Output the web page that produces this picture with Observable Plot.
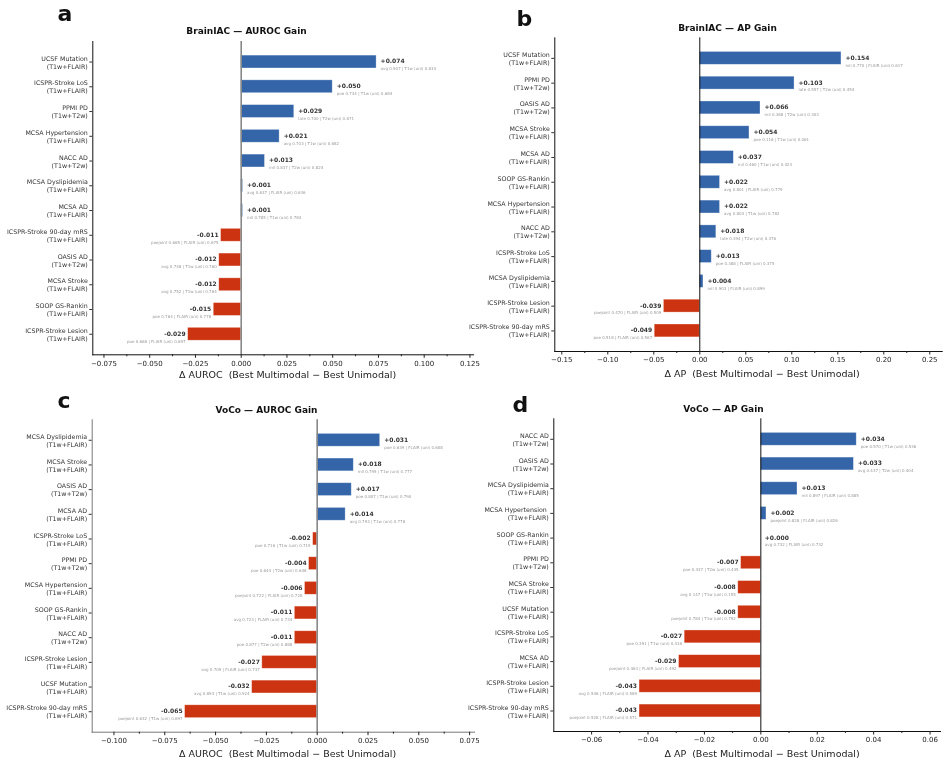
<!DOCTYPE html>
<html>
<head>
<meta charset="utf-8">
<script src="https://cdn.jsdelivr.net/npm/d3@7"></script>
<script src="https://cdn.jsdelivr.net/npm/@observablehq/plot@0.6"></script>
<style>
  html, body { margin: 0; padding: 0; background: #fff; }
  #fig { position: relative; width: 949px; height: 765px; overflow: hidden; font-family: "DejaVu Sans", sans-serif; }
  #fig svg { position: absolute; overflow: visible; will-change: transform; }
</style>
</head>
<body>
<div id="fig"></div>
<script>
// ---- BrainIAC, AUROC ----
const biacAurocTask = ["UCSF Mutation", "ICSPR-Stroke LoS", "PPMI PD", "MCSA Hypertension", "NACC AD", "MCSA Dyslipidemia", "MCSA AD", "ICSPR-Stroke 90-day mRS", "OASIS AD", "MCSA Stroke", "SOOP GS-Rankin", "ICSPR-Stroke Lesion"];
const biacAurocMod = ["T1w+FLAIR", "T1w+FLAIR", "T1w+T2w", "T1w+FLAIR", "T1w+T2w", "T1w+FLAIR", "T1w+FLAIR", "T1w+FLAIR", "T1w+T2w", "T1w+FLAIR", "T1w+FLAIR", "T1w+FLAIR"];
const biacAurocDelta = [0.074, 0.050, 0.029, 0.021, 0.013, 0.001, 0.001, -0.011, -0.012, -0.012, -0.015, -0.029];
const biacAurocNote = [
  "avg 0.907 | T1w (uni) 0.834", "poe 0.734 | T1w (uni) 0.684", "late 0.700 | T2w (uni) 0.671",
  "avg 0.703 | T1w (uni) 0.682", "mil 0.837 | T2w (uni) 0.824", "avg 0.637 | FLAIR (uni) 0.636",
  "mil 0.785 | T1w (uni) 0.784", "poejoint 0.665 | FLAIR (uni) 0.675", "avg 0.748 | T1w (uni) 0.760",
  "avg 0.752 | T1w (uni) 0.764", "poe 0.764 | FLAIR (uni) 0.778", "poe 0.668 | FLAIR (uni) 0.697"];

// ---- BrainIAC, AP ----
const biacApTask = ["UCSF Mutation", "PPMI PD", "OASIS AD", "MCSA Stroke", "MCSA AD", "SOOP GS-Rankin", "MCSA Hypertension", "NACC AD", "ICSPR-Stroke LoS", "MCSA Dyslipidemia", "ICSPR-Stroke Lesion", "ICSPR-Stroke 90-day mRS"];
const biacApMod = ["T1w+FLAIR", "T1w+T2w", "T1w+T2w", "T1w+FLAIR", "T1w+FLAIR", "T1w+FLAIR", "T1w+FLAIR", "T1w+T2w", "T1w+FLAIR", "T1w+FLAIR", "T1w+FLAIR", "T1w+FLAIR"];
const biacApDelta = [0.154, 0.103, 0.066, 0.054, 0.037, 0.022, 0.022, 0.018, 0.013, 0.004, -0.039, -0.049];
const biacApNote = [
  "mil 0.770 | FLAIR (uni) 0.617", "late 0.557 | T2w (uni) 0.454", "mil 0.368 | T2w (uni) 0.303",
  "poe 0.116 | T1w (uni) 0.061", "mil 0.460 | T1w (uni) 0.423", "avg 0.801 | FLAIR (uni) 0.779",
  "avg 0.804 | T1w (uni) 0.782", "late 0.394 | T2w (uni) 0.376", "poe 0.388 | FLAIR (uni) 0.375",
  "mil 0.903 | FLAIR (uni) 0.899", "poejoint 0.470 | FLAIR (uni) 0.509", "poe 0.518 | FLAIR (uni) 0.567"];

// ---- VoCo, AUROC ----
const vocoAurocTask = ["MCSA Dyslipidemia", "MCSA Stroke", "OASIS AD", "MCSA AD", "ICSPR-Stroke LoS", "PPMI PD", "MCSA Hypertension", "SOOP GS-Rankin", "NACC AD", "ICSPR-Stroke Lesion", "UCSF Mutation", "ICSPR-Stroke 90-day mRS"];
const vocoAurocMod = ["T1w+FLAIR", "T1w+FLAIR", "T1w+T2w", "T1w+FLAIR", "T1w+FLAIR", "T1w+T2w", "T1w+FLAIR", "T1w+FLAIR", "T1w+T2w", "T1w+FLAIR", "T1w+FLAIR", "T1w+FLAIR"];
const vocoAurocDelta = [0.031, 0.018, 0.017, 0.014, -0.002, -0.004, -0.006, -0.011, -0.011, -0.027, -0.032, -0.065];
const vocoAurocNote = [
  "poe 0.639 | FLAIR (uni) 0.608", "mil 0.795 | T1w (uni) 0.777", "poe 0.807 | T1w (uni) 0.790",
  "avg 0.793 | T1w (uni) 0.778", "poe 0.716 | T1w (uni) 0.719", "poe 0.644 | T2w (uni) 0.648",
  "poejoint 0.722 | FLAIR (uni) 0.728", "avg 0.723 | FLAIR (uni) 0.734", "poe 0.877 | T2w (uni) 0.888",
  "avg 0.709 | FLAIR (uni) 0.737", "avg 0.893 | T1w (uni) 0.924", "poejoint 0.632 | T1w (uni) 0.697"];

// ---- VoCo, AP ----
const vocoApTask = ["NACC AD", "OASIS AD", "MCSA Dyslipidemia", "MCSA Hypertension\u00a0", "SOOP GS-Rankin", "PPMI PD", "MCSA Stroke", "UCSF Mutation", "ICSPR-Stroke LoS", "MCSA AD", "ICSPR-Stroke Lesion", "ICSPR-Stroke 90-day mRS"];
const vocoApMod = ["T1w+T2w", "T1w+T2w", "T1w+FLAIR", "T1w+FLAIR", "T1w+FLAIR", "T1w+T2w", "T1w+FLAIR", "T1w+FLAIR", "T1w+FLAIR", "T1w+FLAIR", "T1w+FLAIR", "T1w+FLAIR"];
const vocoApDelta = [0.034, 0.033, 0.013, 0.002, 0.000, -0.007, -0.008, -0.008, -0.027, -0.029, -0.043, -0.043];
const vocoApNote = [
  "poe 0.570 | T1w (uni) 0.536", "avg 0.437 | T2w (uni) 0.404", "mil 0.897 | FLAIR (uni) 0.885",
  "poejoint 0.828 | FLAIR (uni) 0.826", "avg 0.732 | FLAIR (uni) 0.732", "poe 0.437 | T2w (uni) 0.445",
  "avg 0.147 | T1w (uni) 0.155", "poejoint 0.784 | T1w (uni) 0.792", "poe 0.391 | T1w (uni) 0.418",
  "poejoint 0.463 | FLAIR (uni) 0.492", "avg 0.546 | FLAIR (uni) 0.589", "poejoint 0.528 | FLAIR (uni) 0.571"];

// ---- axis ticks ----
const aurocTicksA = [-0.075, -0.05, -0.025, 0, 0.025, 0.05, 0.075, 0.1, 0.125];
const apTicksB = [-0.15, -0.1, -0.05, 0, 0.05, 0.1, 0.15, 0.2, 0.25];
const aurocTicksC = [-0.1, -0.075, -0.05, -0.025, 0, 0.025, 0.05, 0.075];
const apTicksD = [-0.06, -0.04, -0.02, 0, 0.02, 0.04, 0.06];

const BLUE = "#3465a8";
const RED = "#cc3311";
const FONT = "DejaVu Sans";

const signed = v => (v >= 0 ? "+" : "-") + Math.abs(v).toFixed(3);
const tickFmt = digits => v => (v < 0 ? "\u2212" : "") + Math.abs(v).toFixed(digits);

function panel(cfg) {
  const rows = cfg.tasks.map((t, i) => ({
    key: `${t}\n(${cfg.mods[i]})`,
    value: cfg.delta[i],
    note: cfg.notes[i]
  }));
  const pos = rows.filter(d => d.value >= 0);
  const neg = rows.filter(d => d.value < 0);
  const b = cfg.box, f = cfg.frame;
  const at = (ax, ay) => ({frameAnchor: "top-left", dx: ax - f.x0, dy: ay - f.y0});
  const minor = d3.pairs(cfg.ticks).map(([p, q]) => (p + q) / 2);

  const svg = Plot.plot({
    width: b.width,
    height: b.height,
    marginLeft: f.x0 - b.left,
    marginRight: b.left + b.width - f.x1,
    marginTop: f.y0 - b.top,
    marginBottom: b.top + b.height - f.y1,
    style: {background: "transparent", fontFamily: FONT, color: "#222", overflow: "visible"},
    x: {domain: cfg.domain},
    y: {domain: rows.map(d => d.key), paddingInner: 0.48, paddingOuter: 0.57, round: false},
    marks: [
      Plot.barX(pos, {x: "value", y: "key", fill: BLUE, stroke: "#fff", strokeOpacity: 0.45, strokeWidth: 0.7}),
      Plot.barX(neg, {x: "value", y: "key", fill: RED, stroke: "#fff", strokeOpacity: 0.45, strokeWidth: 0.7}),
      Plot.ruleX([0], {stroke: cfg.zeroColor, strokeWidth: cfg.zeroWidth}),
      Plot.frame({anchor: "left", stroke: cfg.spine, strokeWidth: 1}),
      Plot.frame({anchor: "bottom", stroke: cfg.spine, strokeWidth: 1}),
      Plot.axisX({ticks: cfg.ticks, tickSize: 3.5, tickPadding: 2.5, tickFormat: tickFmt(cfg.digits), fontSize: 7, label: null, color: "#222"}),
      Plot.axisX({ticks: minor, tickSize: 2, tickFormat: () => "", label: null, color: "#222"}),
      Plot.axisY({tickSize: 3, tickPadding: 2, fontSize: 6.3, lineHeight: 1.27, label: null, color: "#333"}),
      // value labels
      Plot.text(pos, {x: "value", y: "key", text: d => signed(d.value), textAnchor: "start", dx: 4, dy: -0.5, fontSize: 6, fontWeight: "bold", fill: "#333"}),
      Plot.text(pos, {x: "value", y: "key", text: "note", textAnchor: "start", dx: 4, dy: 7, fontSize: 4, fill: "#999"}),
      Plot.text(neg, {x: "value", y: "key", text: d => signed(d.value), textAnchor: "end", dx: -2.5, dy: -0.5, fontSize: 6, fontWeight: "bold", fill: "#333"}),
      Plot.text(neg, {x: "value", y: "key", text: "note", textAnchor: "end", dx: -2.5, dy: 7, fontSize: 4, fill: "#999"}),
      // title, axis label, panel letter
      Plot.text([cfg.title], {text: d => d, ...at(cfg.titleAt[0], cfg.titleAt[1]), textAnchor: "middle", lineAnchor: "middle", fontSize: 9, fontWeight: "bold", fill: "#111"}),
      Plot.text([cfg.xlabel], {text: d => d, ...at(cfg.xlabelAt[0], cfg.xlabelAt[1]), textAnchor: "middle", lineAnchor: "middle", fontSize: 9.5, fill: "#222"}),
      Plot.text([cfg.letter], {text: d => d, ...at(cfg.letterAt[0], cfg.letterAt[1]), textAnchor: "start", lineAnchor: "bottom", fontSize: 22, fontWeight: "bold", fill: "#111"})
    ]
  });
  svg.style.left = b.left + "px";
  svg.style.top = b.top + "px";
  document.getElementById("fig").appendChild(svg);
}

const aurocLabel = "\u0394 AUROC  (Best Multimodal \u2212 Best Unimodal)";
const apLabel = "\u0394 AP  (Best Multimodal \u2212 Best Unimodal)";

panel({
  tasks: biacAurocTask, mods: biacAurocMod, delta: biacAurocDelta, notes: biacAurocNote,
  box: {left: 0, top: 0, width: 478, height: 385},
  frame: {x0: 92.3, x1: 473.1, y0: 41, y1: 354.3},
  domain: [-0.0811, 0.127], ticks: aurocTicksA, digits: 3,
  zeroColor: "#888", zeroWidth: 1.6, spine: "#111",
  title: "BrainIAC \u2014 AUROC Gain", titleAt: [246, 30.5],
  xlabel: aurocLabel, xlabelAt: [287, 374.3],
  letter: "a", letterAt: [57, 20]
});

panel({
  tasks: biacApTask, mods: biacApMod, delta: biacApDelta, notes: biacApNote,
  box: {left: 460, top: 0, width: 489, height: 385},
  frame: {x0: 554.3, x1: 941.7, y0: 37.3, y1: 351},
  domain: [-0.1576, 0.2635], ticks: apTicksB, digits: 2,
  zeroColor: "#111", zeroWidth: 1, spine: "#111",
  title: "BrainIAC \u2014 AP Gain", titleAt: [727, 27.5],
  xlabel: apLabel, xlabelAt: [761.5, 373.3],
  letter: "b", letterAt: [516, 25.7]
});

panel({
  tasks: vocoAurocTask, mods: vocoAurocMod, delta: vocoAurocDelta, notes: vocoAurocNote,
  box: {left: 0, top: 385, width: 478, height: 380},
  frame: {x0: 91.7, x1: 474, y0: 419.3, y1: 731.7},
  domain: [-0.1107, 0.0774], ticks: aurocTicksC, digits: 3,
  zeroColor: "#888", zeroWidth: 1.6, spine: "#777",
  title: "VoCo \u2014 AUROC Gain", titleAt: [266, 409.5],
  xlabel: aurocLabel, xlabelAt: [287, 753.3],
  letter: "c", letterAt: [57, 407.7]
});

panel({
  tasks: vocoApTask, mods: vocoApMod, delta: vocoApDelta, notes: vocoApNote,
  box: {left: 460, top: 385, width: 489, height: 380},
  frame: {x0: 553.3, x1: 940, y0: 418.3, y1: 731},
  domain: [-0.0734, 0.0637], ticks: apTicksD, digits: 2,
  zeroColor: "#111", zeroWidth: 1, spine: "#111",
  title: "VoCo \u2014 AP Gain", titleAt: [723, 408.8],
  xlabel: apLabel, xlabelAt: [761.5, 753.3],
  letter: "d", letterAt: [512, 411.7]
});
</script>
</body>
</html>
